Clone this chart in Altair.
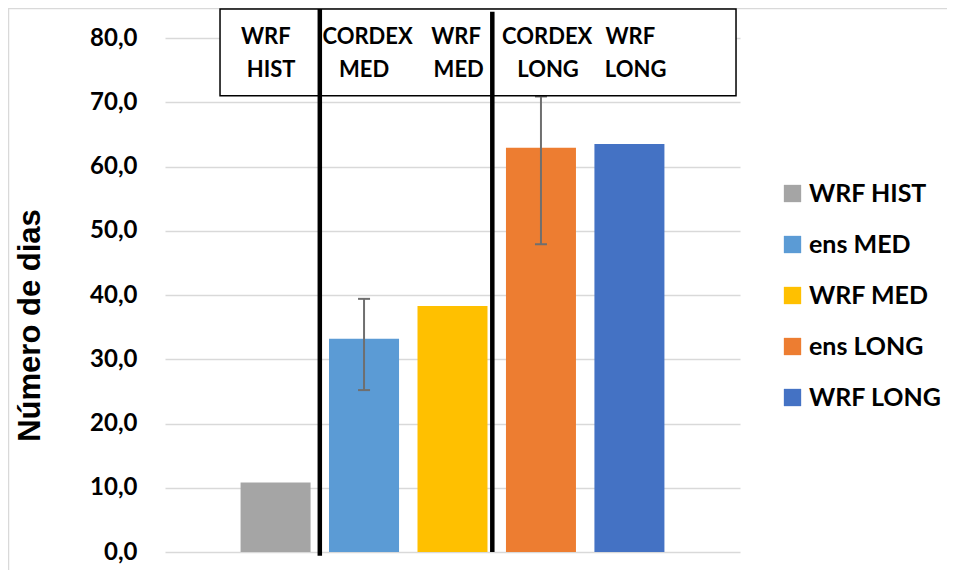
import altair as alt
import pandas as pd

# ---- data ----
series = ["WRF HIST", "ens MED", "WRF MED", "ens LONG", "WRF LONG"]
values = [10.8, 33.2, 38.3, 62.9, 63.5]
positions = [1, 2, 3, 4, 5]
colors = ["#A5A5A5", "#5B9BD5", "#FFC000", "#ED7D31", "#4472C4"]

err_pos = [2, 4]
err_low = [25.2, 47.9]
err_high = [39.4, 70.9]

y_ticks = [0, 10, 20, 30, 40, 50, 60, 70, 80]

header_line1 = ["WRF", "CORDEX", "WRF", "CORDEX", "WRF"]
header_line2 = ["HIST", "MED", "MED", "LONG", "LONG"]
header_x1 = [0.89, 2.04, 3.04, 4.07, 5.01]
header_x2 = [0.95, 2.00, 3.07, 4.08, 5.07]
header_y1 = 79.0
header_y2 = 74.0

sep_x = [1.5, 3.45]
sep_bottom = [-0.6, 0.0]
sep_top = [84.5, 84.1]

box_x = [0.372]
box_x2 = [6.205]
box_y = [71.0]
box_y2 = [84.5]

# ---- tables ----
bars = pd.DataFrame({"series": series, "value": values, "pos": positions})
errs = pd.DataFrame({"pos": err_pos, "low": err_low, "high": err_high})
hdr = pd.DataFrame({
    "x": header_x1 + header_x2,
    "y": [header_y1] * 5 + [header_y2] * 5,
    "label": header_line1 + header_line2,
})
seps = pd.DataFrame({"x": sep_x, "y": sep_bottom, "y2": sep_top})
box = pd.DataFrame({"x": box_x, "x2": box_x2, "y": box_y, "y2": box_y2})
one = pd.DataFrame({"a": [0]})

xs = alt.Scale(domain=[-0.25, 6.25], nice=False, zero=False, padding=0)
ys = alt.Scale(domain=[0, 80], nice=False, padding=0)

y_axis = alt.Axis(
    values=y_ticks,
    labelExpr="replace(format(datum.value, '.1f'), '.', ',')",
    ticks=False,
    domain=False,
    labelPadding=28,
    labelFont="Lato",
    labelFontWeight="bold",
    labelFontSize=24,
    labelColor="#000000",
    gridColor="#d9d9d9",
    gridWidth=1.5,
    titleFont="Liberation Sans",
    titleFontWeight="bold",
    titleFontSize=31,
    titleColor="#000000",
    titleAngle=-90,
    titleAlign="center",
    titleBaseline="alphabetic",
    titleX=-126,
    titleY=287,
)
Y_TITLE = "Número de dias"

bar_layer = alt.Chart(bars).mark_bar(size=70).encode(
    x=alt.X("pos:Q", scale=xs, axis=None),
    y=alt.Y("value:Q", scale=ys, title=Y_TITLE, axis=y_axis),
    color=alt.Color(
        "series:N",
        sort=series,
        scale=alt.Scale(domain=series, range=colors),
        legend=alt.Legend(
            title=None,
            orient="none",
            legendX=615,
            legendY=143,
            padding=0,
            symbolType="square",
            symbolSize=300,
            symbolStrokeWidth=0,
            symbolOpacity=1,
            labelFont="Lato",
            labelFontWeight="bold",
            labelFontSize=25,
            labelColor="#000000",
            labelOffset=4,
            rowPadding=25,
        ),
    ),
)

err_rule = alt.Chart(errs).mark_rule(color="#6f6f6f", strokeWidth=2).encode(
    x=alt.X("pos:Q", scale=xs, axis=None),
    y=alt.Y("low:Q", scale=ys, title=Y_TITLE, axis=y_axis),
    y2="high:Q",
)
cap_style = dict(shape="M-1,0L1,0", size=144, stroke="#6f6f6f", strokeWidth=2,
                 filled=False, opacity=1)
err_cap_low = alt.Chart(errs).mark_point(**cap_style).encode(
    x=alt.X("pos:Q", scale=xs, axis=None),
    y=alt.Y("low:Q", scale=ys, title=Y_TITLE, axis=y_axis),
)
err_cap_high = alt.Chart(errs).mark_point(**cap_style).encode(
    x=alt.X("pos:Q", scale=xs, axis=None),
    y=alt.Y("high:Q", scale=ys, title=Y_TITLE, axis=y_axis),
)

box_layer = alt.Chart(box).mark_rect(fill="white", stroke="black", strokeWidth=1.5).encode(
    x=alt.X("x:Q", scale=xs, axis=None),
    x2="x2:Q",
    y=alt.Y("y:Q", scale=ys, title=Y_TITLE, axis=y_axis),
    y2="y2:Q",
)

sep_layer = alt.Chart(seps).mark_rule(color="black", strokeWidth=4.5).encode(
    x=alt.X("x:Q", scale=xs, axis=None),
    y=alt.Y("y:Q", scale=ys, title=Y_TITLE, axis=y_axis),
    y2="y2:Q",
)

hdr_layer = alt.Chart(hdr).mark_text(
    font="Lato", fontWeight="bold", fontSize=22, color="black",
    align="center", baseline="alphabetic",
).encode(
    x=alt.X("x:Q", scale=xs, axis=None),
    y=alt.Y("y:Q", scale=ys, title=Y_TITLE, axis=y_axis),
    text="label:N",
)

border_top = alt.Chart(one).mark_rule(color="#d9d9d9", strokeWidth=1.5).encode(
    x=alt.value(-157), x2=alt.value(790), y=alt.value(-29.5)
)
border_left = alt.Chart(one).mark_rule(color="#d9d9d9", strokeWidth=1.5).encode(
    x=alt.value(-156.5), y=alt.value(-30), y2=alt.value(540)
)

chart = alt.layer(
    border_top, border_left,
    bar_layer, err_rule, err_cap_low, err_cap_high,
    box_layer, sep_layer, hdr_layer,
).properties(
    width=575,
    height=514,
    autosize=alt.AutoSizeParams(type="none"),
    padding={"left": 157, "top": 30, "right": 207, "bottom": 18},
    background="white",
).configure_view(stroke=None)

chart.save("out.html", embed_options={"renderer": "svg", "actions": False})
